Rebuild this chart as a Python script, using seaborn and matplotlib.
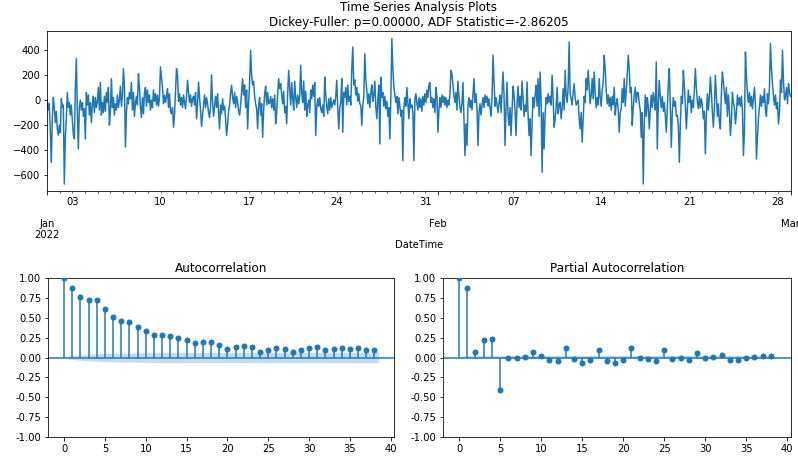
import numpy as np
import pandas as pd
import matplotlib
matplotlib.use("Agg")
import matplotlib.pyplot as plt
import matplotlib.dates as mdates
from matplotlib.ticker import FuncFormatter, FormatStrFormatter
import seaborn as sns

# ---- observed series, split into roughly 12-day stretches ----
jan01_jan12 = [
    0, -80, -30, -250, -497, -150, 20, -60, -180, -90,
    -230, -280, -200, -260, 10, -60, -40, -670, -300, -150,
    60, -60, -20, -120, -40, -160, -280, -310, 90, 330,
    -100, -390, -60, 0, -80, -20, -130, -70, -310, 60,
    -40, 40, -120, -20, -180, -30, 30, -100, 20, -60,
    -10, 100, -80, 140, -120, -20, -100, 30, -90, 60,
    -20, 100, -200, -90, 170, -60, 20, -120, -30, -80,
    40, -60, 0, 110, -50, 30, 250, 120, -375, -100,
    20, -30, 60, 10, 140, -80, 60, -130, -20, 30,
    -40, 210, 100, -60, -140, 20, -110, 60, 100, -50,
    80, -20, 40, -80, 0, -60, 80, -10, 50, -40,
    40, -50, 20, 263, 180, 100, -30, 40, -20, 30,
    90, -60, 50, -90, -110, -60, -217, -120, 60, 250,
    200, -10, 50, -40, 20, -60, 40, -20, -70, 30, 157, 60, -20, 40, -50, 10,
]
jan12_jan24 = [
    30, -40, 60, -150, -30, 143, 20, -80, -210, -120,
    -40, 40, -60, 20, -30, -100, -140, -50, 200, -20,
    -130, -50, 30, -60, 50, -100, -230, -40, -110, 10,
    -80, -50, -150, -283, -200, -90, -40, 60, 117, 20,
    -30, 60, -60, 30, -20, -90, -120, -40, 60, 170,
    40, 120, -60, 80, -230, -20, 140, 397, 200, 120,
    150, 30, -30, -70, -230, -40, 20, -120, -30, -297,
    -80, 50, 110, -40, 60, -30, -20, 30, -60, 10,
    -80, 40, -190, -100, 50, 170, 90, 130, 40, -30,
    70, -100, -50, -190, 60, 237, 90, -40, 140, 10,
    -80, 150, 20, -60, 40, -30, 30, 277, 60, -20,
    150, -80, 70, -130, -40, 0, -100, 80, 10, 120,
    30, 140, -283, -60, 10, -50, 20, -70, -100, -40,
    -130, 183, 40, -50, -110, 10, -80, 20, -60, -30,
    0, -40, 30, 157, -70, -230, -60, -20,
]
jan24_feb04 = [
    170, -257, 60, 20, 100, -40, 120, -10, 30, -40,
    250, 423, 120, 160, 40, 100, -10, 50, -30, -43,
    -203, -40, 30, 370, 160, 80, -30, 50, -60, 60,
    120, -10, 40, 150, -60, -150, 10, 120, -350, 183,
    20, 60, -50, 30, -70, -10, -130, -60, -310, 20,
    490, 250, 110, 40, -20, 30, -110, 20, -50, -130,
    -80, -483, -60, 20, -50, 100, -20, -150, 10, -60,
    -40, -100, -483, 10, 50, -30, -80, 20, -60, 10,
    -90, 30, -40, 50, -20, 80, 20, 120, 140, -20,
    20, -60, 10, -100, 100, 30, -257, -80, 20, -60,
    40, -20, 30, -40, 20, -60, 0, -40, 50, 237,
    210, 120, 30, -20, 60, -80, 150, 30, -60, -100,
    -30, 140, -150, -443, -190, -363, -40, 20, -60, 0,
    -80, 40, 170, -20, 50, -70, -363, -100, -30, -120,
    -40, 20, -60, 40, -20, 30, -50, 10,
]
feb04_feb16 = [
    -60, -130, 20, 357, 150, -50, 20, -40, -100, -20,
    40, -100, 60, 223, 40, -363, -60, 143, -120, -203,
    -60, -283, -80, 110, 40, -90, -283, -30, 110, -60,
    30, -80, 150, 20, -130, -40, -90, 143, -120, -283,
    -150, -443, -180, 20, -60, 40, 117, -50, 170, -130,
    223, 0, -577, -100, -390, -120, 20, -30, 50, -20,
    30, -40, 197, 20, -217, -150, -60, 100, -110, -40,
    -20, -150, -60, 90, -80, 237, 40, -20, 100, 463,
    50, 10, -40, 60, 130, 20, -40, -20, 0, -150,
    -230, -100, -337, -150, 30, -20, 170, 80, 237, 110,
    -30, 40, 170, 10, 223, 60, -60, 20, -40, 170,
    20, -50, 80, 140, 357, 250, 80, -30, 40, -50,
    20, -80, 30, -40, 100, -120, -30, 10, -80, -257,
    -100, -70, 90, -20, 170, -50, 80, 200, 357, 250,
    60, 100, -203, -60, 40, 100, -20, 60,
]
feb16_mar01 = [
    60, -30, -80, -297, -100, -670, -200, 40, -130, 20,
    -50, -230, -80, 40, -60, 60, 0, -80, 303, -390,
    -30, 157, 20, -60, 30, -90, -20, -120, -257, -60,
    120, 250, -40, -377, -100, 20, -50, -10, -130, -120,
    -200, -497, -200, 30, -30, 237, 120, -40, -230, -80,
    80, -20, 30, -100, 0, -60, 80, 250, 100, -10,
    -70, 30, -60, 10, -40, -150, -90, -430, -130, 50,
    -80, 20, 183, 60, -100, -217, -60, 197, 40, -130,
    -30, -180, -230, 60, 223, 150, 50, -30, 100, -130,
    40, -80, -283, -170, 60, -20, -60, -190, -110, 40,
    -40, 20, -50, 30, -80, -443, -250, 383, 200, 50,
    -20, 60, -50, 30, -70, 20, 100, -30, -470, -300,
    -140, -60, 40, -50, 30, -20, 90, -80, -130, 50,
    -30, 100, 450, 250, 130, 30, -40, 40, -70, -20,
    -190, -100, 160, 60, 397, 150, 0, 30, 100, -30, 130, 60, 30,
]

# ---- correlogram values, lags 0..38 ----
acf_vals = [
    1.0, 0.866, 0.757, 0.724, 0.724, 0.607, 0.506, 0.452, 0.439, 0.381,
    0.335, 0.285, 0.276, 0.264, 0.243, 0.218, 0.180, 0.197, 0.192, 0.155,
    0.109, 0.134, 0.146, 0.126, 0.071, 0.096, 0.121, 0.109, 0.071, 0.096,
    0.121, 0.126, 0.096, 0.109, 0.113, 0.109, 0.113, 0.096, 0.096,
]
pacf_vals = [
    1.0, 0.866, 0.067, 0.218, 0.234, -0.406, -0.004, -0.004, 0.008, 0.075,
    0.021, -0.029, -0.038, 0.113, -0.017, -0.063, -0.029, 0.100, -0.042, -0.075,
    -0.029, 0.113, -0.004, -0.017, -0.042, 0.088, -0.021, -0.004, -0.029, 0.054,
    -0.004, 0.008, 0.029, -0.029, -0.029, -0.004, 0.008, 0.021, 0.021,
]
n_obs = 8496  # 10-minute readings over 59 days

title = "Time Series Analysis Plots\nDickey-Fuller: p=0.00000, ADF Statistic=-2.86205"

values = np.array(jan01_jan12 + jan12_jan24 + jan24_feb04 + feb04_feb16 + feb16_mar01, dtype=float)
start, end = pd.Timestamp("2022-01-01"), pd.Timestamp("2022-03-01")
series = pd.DataFrame({"DateTime": pd.date_range(start, end, periods=len(values)),
                       "value": values})

W, H, DPI = 798, 457, 72
fig = plt.figure(figsize=(W / DPI, H / DPI), dpi=DPI)


def box(left, top, right, bottom):
    return [left / W, 1 - bottom / H, (right - left) / W, (bottom - top) / H]


ts_ax = fig.add_axes(box(47.3, 31.3, 790.5, 191.3))
acf_ax = fig.add_axes(box(48.3, 277.7, 394.3, 437.3))
pacf_ax = fig.add_axes(box(443.3, 277.7, 790.7, 437.3))

blue = "#1f77b4"

# ---- time series ----
sns.lineplot(data=series, x="DateTime", y="value", ax=ts_ax, color=blue, linewidth=1.5)
ts_ax.set_xlim(start, end)
ts_ax.set_ylabel("")
ts_ax.set_xlabel("DateTime", labelpad=0)
ts_ax.set_title(title, pad=5)
ts_ax.xaxis.set_major_locator(mdates.MonthLocator())
ts_ax.xaxis.set_minor_locator(mdates.DayLocator())


def month_label(x, pos):
    d = mdates.num2date(x)
    return d.strftime("%b\n%Y") if d.month == 1 else d.strftime("%b")


def day_label(x, pos):
    d = mdates.num2date(x)
    return d.strftime("%d") if d.weekday() == 0 and d.day != 1 else ""


ts_ax.xaxis.set_major_formatter(FuncFormatter(month_label))
ts_ax.xaxis.set_minor_formatter(FuncFormatter(day_label))
ts_ax.tick_params(axis="x", which="major", pad=24)
ts_ax.set_yticks([-600, -400, -200, 0, 200, 400])
for lbl in ts_ax.get_xticklabels(which="both"):
    lbl.set_rotation(0)
    lbl.set_ha("center")


# ---- correlograms ----
def correlogram(ax, vals, band, name):
    lags = np.arange(len(vals))
    vals = np.asarray(vals)
    ax.vlines(lags, 0, vals, color=blue, linewidth=1.5)
    ax.axhline(0, color=blue, linewidth=1.5)
    sns.scatterplot(x=lags, y=vals, ax=ax, color=blue, s=25,
                    edgecolor=blue, linewidth=1, zorder=3)
    band_x = lags[1:].astype(float)
    band_x[0] -= 0.5
    band_x[-1] += 0.5
    ax.fill_between(band_x, -band, band, color=blue, alpha=0.25, linewidth=0)
    ax.margins(x=0.05)
    ax.set_ylim(-1, 1)
    ax.set_yticks(np.linspace(-1, 1, 9))
    ax.yaxis.set_major_formatter(FormatStrFormatter("%.2f"))
    ax.set_title(name)


acf_arr = np.asarray(acf_vals)
var_acf = np.ones(len(acf_arr)) / n_obs
var_acf[2:] *= 1 + 2 * np.cumsum(acf_arr[1:-1] ** 2)
acf_band = 1.959964 * np.sqrt(var_acf[1:])
pacf_band = np.full(len(pacf_vals) - 1, 1.959964 / np.sqrt(n_obs))

correlogram(acf_ax, acf_vals, acf_band, "Autocorrelation")
correlogram(pacf_ax, pacf_vals, pacf_band, "Partial Autocorrelation")

fig.savefig("out.png", dpi=DPI)
